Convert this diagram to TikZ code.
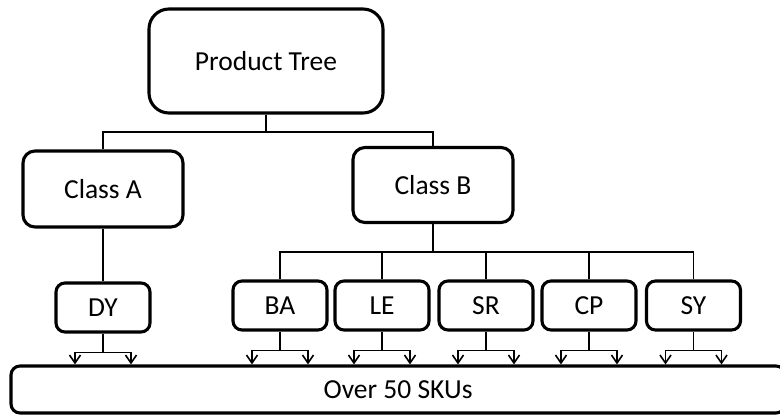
\documentclass[tikz,border=0pt]{standalone}
\usepackage{fontspec}
\setmainfont{Carlito}
\usetikzlibrary{arrows.meta,calc}

\tikzset{
  box/.style={draw=black, line width=3.1pt, rounded corners=#1, fill=white,
              inner sep=0pt, font=\fontsize{27.5}{30}\selectfont},
  box/.default=9pt,
  conn/.style={draw=black, line width=1.5pt},
  >={Straight Barb[length=8pt,width=11pt,line width=1.6pt]}
}

\begin{document}
\begin{tikzpicture}[x=1pt,y=-1pt]
  % canvas
  \fill[white] (0,0) rectangle (780,415);
  \useasboundingbox (0,0) rectangle (780,415);

  % top level
  \node[box=20pt, minimum width=234pt, minimum height=104pt] (tree) at (266,61) {Product Tree};

  % classes
  \node[box=12pt, minimum width=160pt, minimum height=76pt] (classA) at (103,189) {Class A};
  \node[box=12pt, minimum width=160pt, minimum height=75pt] (classB) at (433,185) {Class B};

  % product families
  \foreach \n/\x/\y in {DY/103/307.5, BA/280/305.5, LE/382/305.5, SR/486/305.5, CP/589/305.5, SY/693.5/305.5}{
    \node[box=9pt, minimum width=94pt, minimum height=49pt] (\n) at (\x,\y) {\n};
  }

  % SKU bar (runs off the right edge)
  \node[box=9pt, minimum width=774pt, minimum height=47pt] (sku) at (398,389.5) {Over 50 SKUs};

  % tree -> classes
  \coordinate (j1) at (266,132);
  \draw[conn] (tree.south) -- (j1);
  \draw[conn] (classA.north) |- (j1) -| (classB.north);

  % class A -> DY
  \draw[conn] (classA.south) -- (DY.north);

  % class B -> families
  \coordinate (j2) at (433,252);
  \draw[conn] (classB.south) -- (j2);
  \draw[conn] (BA.north) |- (j2) -| (SY.north);
  \foreach \n in {LE,SR,CP}{
    \draw[conn] (\n.north) -- (\n.north |- j2);
  }

  % families -> SKUs
  \foreach \n in {DY,BA,LE,SR,CP,SY}{
    \path (\n.south) ++(0,19) coordinate (\n-j) ++(-28,0) coordinate (\n-l) ++(56,0) coordinate (\n-r);
    \draw[conn] (\n.south) -- (\n-j);
    \draw[conn, <->] (\n-l |- sku.north) -- (\n-l) -- (\n-r) -- (\n-r |- sku.north);
  }
\end{tikzpicture}
\end{document}
